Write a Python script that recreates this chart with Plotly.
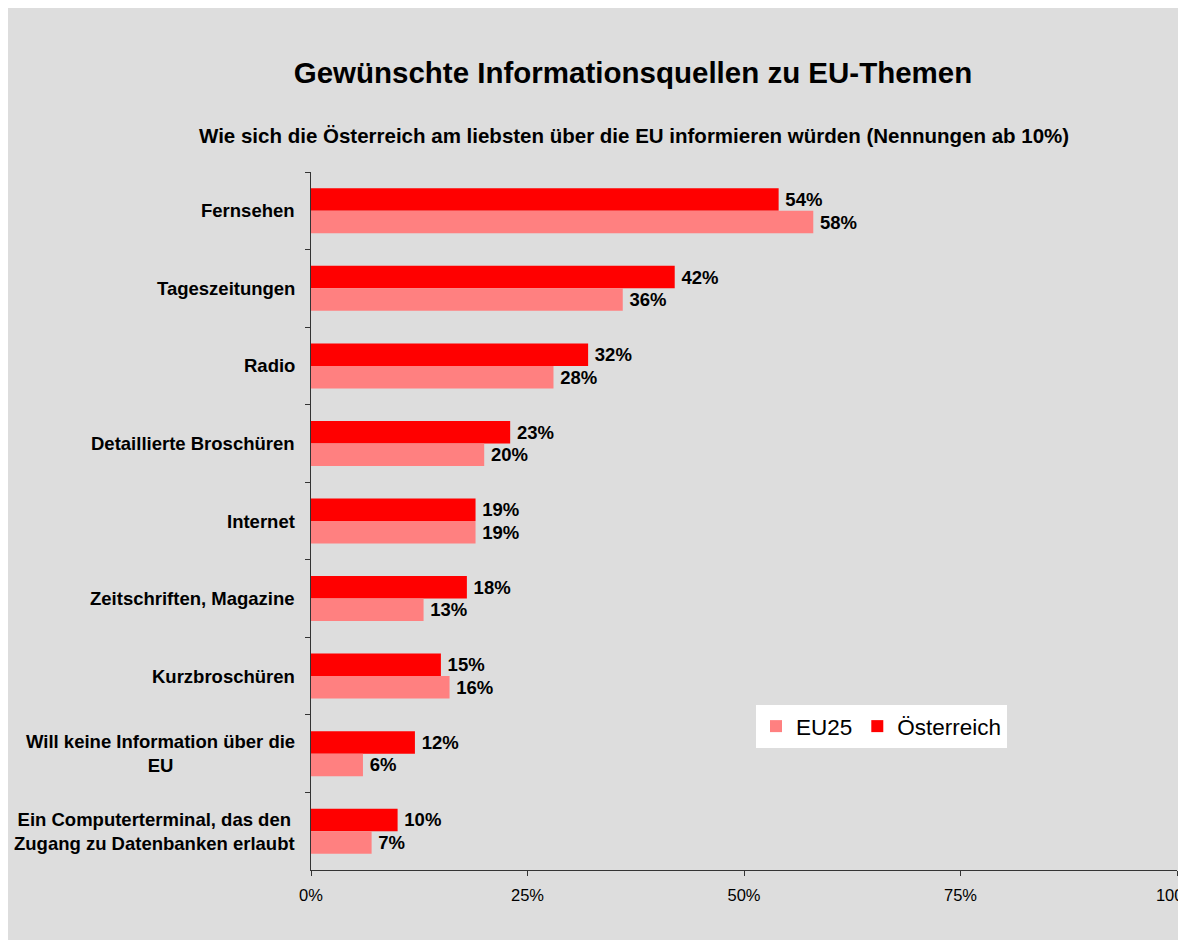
import plotly.graph_objects as go

categories = ["Fernsehen", "Tageszeitungen", "Radio", "Detaillierte Broschüren", "Internet",
              "Zeitschriften, Magazine", "Kurzbroschüren",
              "Will keine Information über die<br>EU",
              "Ein Computerterminal, das den<br>Zugang zu Datenbanken erlaubt"]
oesterreich = [54, 42, 32, 23, 19, 18, 15, 12, 10]
eu25 = [58, 36, 28, 20, 19, 13, 16, 6, 7]
x_tickvals = [0, 25, 50, 75, 100]
x_ticktext = ["0%", "25%", "50%", "75%", "100%"]

FONT = "Arial, Liberation Sans, sans-serif"
OFF = 8  # page offset of the figure (body margin)
W, H = 1174, 932
L, R, T, B = 311 - OFF, (W + OFF) - 1177, 172 - OFF, (H + OFF) - 870
pw, ph = W - L - R, H - T - B

def px2x(px):
    return (px - OFF - L) / pw

def py2y(py):
    return (H + OFF - B - py) / ph

fig = go.Figure()
fig.add_trace(go.Bar(
    y=categories, x=oesterreich, name="Österreich", orientation="h",
    marker=dict(color="#FF0000", line=dict(width=0)),
    texttemplate="\u2009%{x}%", textposition="outside",
    textfont=dict(family=FONT, size=18.5, color="black", weight="bold"),
    cliponaxis=False,
))
fig.add_trace(go.Bar(
    y=categories, x=eu25, name="EU25", orientation="h",
    marker=dict(color="#FF8080", line=dict(width=0)),
    texttemplate="\u2009%{x}%", textposition="outside",
    textfont=dict(family=FONT, size=18.5, color="black", weight="bold"),
    cliponaxis=False,
))

annotations = []
for c in categories:
    annotations.append(dict(
        x=0, xref="paper", y=c, yref="y", xanchor="right", xshift=-14,
        text="<b>" + c + "</b>", showarrow=False, align="center",
        font=dict(family=FONT, size=18.5, color="black"),
    ))
annotations.append(dict(
    x=px2x(634), xref="paper", y=py2y(135), yref="paper", xanchor="center", yanchor="middle",
    text="<b>Wie sich die Österreich am liebsten über die EU informieren würden (Nennungen ab 10%)</b>",
    showarrow=False, font=dict(family=FONT, size=20.5, color="black"),
))

fig.update_layout(
    width=W, height=H,
    margin=dict(l=L, r=R, t=T, b=B, pad=0, autoexpand=False),
    paper_bgcolor="#DDDDDD", plot_bgcolor="#DDDDDD",
    barmode="group", bargap=0.42, bargroupgap=0,
    title=dict(text="<b>Gewünschte Informationsquellen zu EU-Themen</b>",
               x=(633 - OFF) / W, xanchor="center", xref="container",
               y=1 - (73 - OFF) / H, yanchor="middle", yref="container",
               font=dict(family=FONT, size=29.5, color="black")),
    showlegend=True,
    legend=dict(orientation="h", x=px2x(756), y=py2y(705), xanchor="left", yanchor="top",
                bgcolor="white", traceorder="reversed", itemwidth=30,
                font=dict(family=FONT, size=22.5, color="black")),
    annotations=annotations,
    xaxis=dict(range=[0, 100], tickvals=x_tickvals, ticktext=x_ticktext, automargin=False,
               showgrid=False, zeroline=False, showline=True, linecolor="#333333", linewidth=1,
               ticks="outside", ticklen=5, tickcolor="#333333", ticklabeloverflow="allow",
               tickfont=dict(family=FONT, size=16.5, color="black"), ticklabelstandoff=5),
    yaxis=dict(autorange="reversed", showticklabels=False, showgrid=False, zeroline=False,
               automargin=False,
               showline=True, linecolor="#333333", linewidth=1,
               ticks="outside", ticklen=5, tickcolor="#333333", tickson="boundaries"),
    font=dict(family=FONT),
)

fig.write_html("out.html")
